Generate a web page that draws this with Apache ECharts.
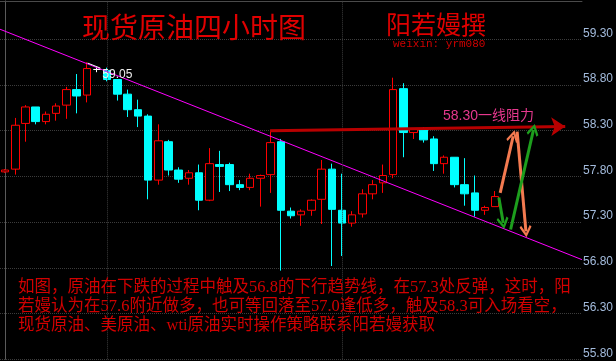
<!DOCTYPE html>
<html><head><meta charset="utf-8">
<script src="https://cdn.jsdelivr.net/npm/echarts@6/dist/echarts.min.js"></script>
<style>html,body{margin:0;padding:0;background:#000;}#c{width:616px;height:361px;}</style>
</head><body><div id="c"></div>
<script>
// ---- candle data (4-hour bars) ----
const opens  = [57.85,57.88,58.38,58.56,58.40,58.49,58.58,58.75,58.69,58.97,58.96,58.86,58.70,58.53,58.46,57.76,58.18,57.87,57.78,57.84,57.54,57.93,57.93,57.71,57.68,57.78,57.82,58.18,57.42,57.38,57.43,57.55,57.88,57.43,57.29,57.39,57.61,57.73,57.82,58.76,58.28,58.31,58.21,57.94,58.01,57.71,57.62,57.43,57.47];
const closes = [57.87,58.36,58.56,58.40,58.48,58.57,58.75,58.68,58.98,58.97,58.86,58.70,58.53,58.46,57.76,58.19,57.87,57.77,57.84,57.54,57.94,57.91,57.71,57.68,57.78,57.81,58.17,57.43,57.37,57.42,57.54,57.88,57.44,57.29,57.38,57.61,57.71,57.81,58.75,58.28,58.32,58.20,57.94,58.01,57.71,57.61,57.43,57.46,57.58];
const lows   = [57.84,57.82,58.18,58.37,58.37,58.41,58.43,58.49,58.61,58.94,58.84,58.63,58.45,58.34,57.55,57.71,57.81,57.73,57.71,57.43,57.53,57.63,57.64,57.65,57.65,57.47,57.62,56.77,57.34,57.26,57.37,57.28,56.82,56.93,57.25,57.35,57.55,57.62,57.78,58.01,58.21,58.17,57.86,57.83,57.68,57.48,57.36,57.38,57.47];
const highs  = [57.88,58.44,58.58,58.56,58.51,58.60,58.78,58.92,59.05,59.00,58.99,58.86,58.75,58.64,58.48,58.37,58.20,57.90,57.87,57.93,58.11,58.08,57.95,57.76,57.83,57.82,58.29,58.21,57.46,57.44,57.55,57.98,57.94,57.83,57.42,57.66,57.76,57.93,58.88,58.82,58.33,58.34,58.24,58.03,58.01,58.00,57.81,57.48,57.64];
const slotCount = 57;                       // bars + empty room on the right
const categories = Array.from({length: slotCount}, (_, i) => String(i));
const sessionBreaks = [10, 33];              // dotted vertical separators (bar index)

// y axis ticks
const yMin = 55.80, yMax = 59.72, yStep = 0.5;

// ---- annotations in data space: [bar index, price] ----
const trendLine   = [[-0.5, 59.41], [56.5, 56.89]];
const resistLine  = [[25.95, 58.30], [54.86, 58.347]];
const orangeUp    = [[48.49, 57.62], [49.76, 58.24]];
const orangeDown  = [[50.15, 58.29], [51.01, 57.20]];
const greenDown   = [[48.36, 57.57], [48.79, 57.29]];
const greenUp     = [[49.51, 57.22], [51.75, 58.31]];
const highPointer = [[8.08, 59.04], [9.33, 58.985]];

const titleText  = '现货原油四小时图';
const authorText = '阳若嫚撰';
const wxText     = 'weixin: yrm080';
const resistText = '58.30一线阻力';
const noteLines  = [
  '如图，原油在下跌的过程中触及56.8的下行趋势线，在57.3处反弹，这时，阳',
  '若嫚认为在57.6附近做多，也可等回落至57.0逢低多，触及58.3可入场看空，',
  '现货原油、美原油、wti原油实时操作策略联系阳若嫚获取'
];

const candleData = opens.map((o, i) => {
  const v = [o, closes[i], lows[i], highs[i]];
  if (o === closes[i]) return {value: v, itemStyle: {color: '#ffffff', borderColor: '#ffffff', borderColor0: '#ffffff', color0: '#ffffff'}};
  return v;
});

const chevron = 'path://M5,0L10,8.5L8.6,10L5,3.6L1.4,10L0,8.5Z';
const CJK = '"Noto Sans CJK SC"';

const chart = echarts.init(document.getElementById('c'), null, {renderer: 'canvas'});
chart.setOption({
  backgroundColor: '#000000',
  animation: false,
  grid: {left: -7.3, right: 29.9, top: 0.9, bottom: 1.7, containLabel: false},
  xAxis: [
    {type: 'category', data: categories, position: 'top', boundaryGap: true,
     axisLine: {show: true, lineStyle: {color: '#4a4a4a', width: 1}},
     axisTick: {show: false}, axisLabel: {show: false}, splitLine: {show: false}},
    {type: 'value', min: -0.5, max: slotCount - 0.5, show: false, splitLine: {show: false}}
  ],
  yAxis: {
    type: 'value', position: 'right', min: yMin, max: yMax, interval: yStep, scale: true,
    axisLine: {show: true, lineStyle: {color: '#5a5a5a', width: 1}},
    axisTick: {show: false},
    axisLabel: {
      margin: 1, color: '#a3bbdc', fontSize: 12, fontFamily: '"Liberation Sans", Arial, sans-serif',
      verticalAlign: 'bottom',
      formatter: v => { const n = (v - yMin) / yStep; return Math.abs(n - Math.round(n)) < 1e-6 ? v.toFixed(2) : ''; }
    },
    splitLine: {show: true, lineStyle: {color: '#3c3c3c', type: 'dotted', width: 1}}
  },
  series: [
    {type: 'line', xAxisIndex: 1, data: [], z: 1, silent: true,
     markLine: {silent: true, symbol: ['none', 'none'], label: {show: false},
       lineStyle: {color: '#3c3c3c', type: 'dotted', width: 1},
       data: sessionBreaks.map(b => ({xAxis: b}))}},
    {type: 'candlestick', xAxisIndex: 0, yAxisIndex: 0, data: candleData, barWidth: 8, z: 3,
     itemStyle: {color: '#000000', borderColor: '#ff0000', color0: '#00ffff', borderColor0: '#00ffff', borderWidth: 1},
     markPoint: {
       symbol: 'circle', symbolSize: 1, itemStyle: {color: 'rgba(0,0,0,0)'},
       label: {show: true, position: [16, 7], color: '#f0f0f0', fontSize: 12,
               fontFamily: '"Liberation Sans", Arial, sans-serif',
               formatter: p => Number(p.value).toFixed(2)},
       data: [{type: 'max', valueDim: 'highest'}]
     }},
    {type: 'lines', coordinateSystem: 'cartesian2d', xAxisIndex: 1, yAxisIndex: 0, z: 4, silent: true,
     symbol: ['none', 'none'], lineStyle: {color: '#ff00ff', width: 1, opacity: 1},
     data: [{coords: trendLine}]},
    {type: 'lines', coordinateSystem: 'cartesian2d', xAxisIndex: 1, yAxisIndex: 0, z: 4, silent: true,
     symbol: ['none', 'none'], lineStyle: {color: '#ffffff', width: 1, opacity: 1},
     data: [{coords: highPointer}]},
    {type: 'lines', coordinateSystem: 'cartesian2d', xAxisIndex: 1, yAxisIndex: 0, z: 5, silent: true,
     symbol: ['none', 'arrow'], symbolSize: 14, lineStyle: {color: '#b80000', width: 3, opacity: 1},
     data: [{coords: resistLine}]},
    {type: 'lines', coordinateSystem: 'cartesian2d', xAxisIndex: 1, yAxisIndex: 0, z: 6, silent: true,
     symbol: ['none', chevron], symbolSize: 12, lineStyle: {color: '#f47a50', width: 3, opacity: 1},
     data: [{coords: orangeUp}, {coords: orangeDown}]},
    {type: 'lines', coordinateSystem: 'cartesian2d', xAxisIndex: 1, yAxisIndex: 0, z: 6, silent: true,
     symbol: ['none', chevron], symbolSize: 12, lineStyle: {color: '#1d9e1d', width: 3, opacity: 1},
     data: [{coords: greenDown}, {coords: greenUp}]}
  ],
  graphic: [
    {type: 'text', x: 82, y: 27, z: 10, style: {text: titleText, fill: '#e00000', font: '28px ' + CJK, verticalAlign: 'middle', textVerticalAlign: 'middle'}},
    {type: 'text', x: 386, y: 24, z: 10, style: {text: authorText, fill: '#e00000', font: '25px ' + CJK, verticalAlign: 'middle', textVerticalAlign: 'middle'}},
    {type: 'text', x: 393, y: 44, z: 10, style: {text: wxText, fill: '#d00000', font: '11px "Liberation Mono", monospace', verticalAlign: 'middle', textVerticalAlign: 'middle'}},
    {type: 'text', x: 443, y: 116, z: 10, style: {text: resistText, fill: '#e6388e', font: '14px "Liberation Sans", ' + CJK, verticalAlign: 'middle', textVerticalAlign: 'middle'}},
    {type: 'text', x: 18, y: 278, z: 10, style: {text: noteLines.join('\n'), fill: '#d20000', font: '16.5px "Liberation Serif", ' + CJK, lineHeight: 19, verticalAlign: 'top', textVerticalAlign: 'top'}}
  ]
});
</script>
</body></html>
